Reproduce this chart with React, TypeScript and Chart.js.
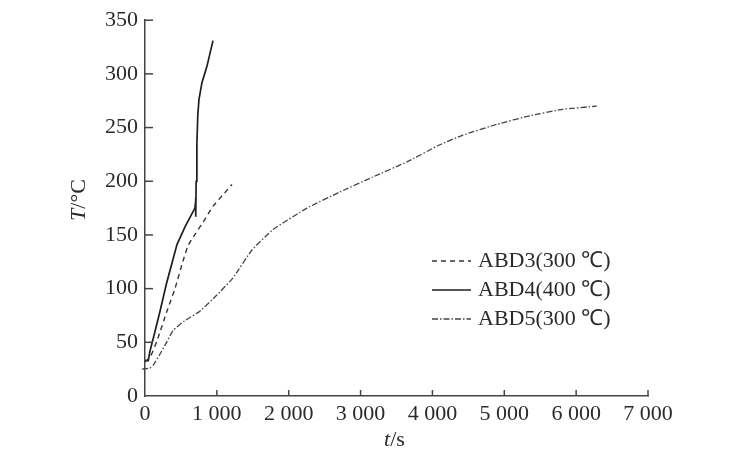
import React, { useEffect, useRef } from "react";
import { Chart, registerables } from "chart.js";

Chart.register(...registerables);

const abd3T = [0, 70, 170, 300, 417, 530, 600, 700, 810, 950, 1080, 1210];
const abd3Y = [32, 36, 52, 78, 100, 126, 140, 151, 162, 177, 187, 197];

const abd4T = [0, 45, 70, 120, 209, 300, 445, 560, 695, 709, 706, 712, 722, 735, 751, 793, 862, 946];
const abd4Y = [33, 33, 42, 55, 79, 105, 141, 158, 175, 184, 167, 200, 235, 262, 276, 292, 307, 331];

const abd5T = [-40, 70, 117, 200, 300, 390, 550, 765, 1000, 1225, 1488, 1780, 2253, 2712, 3171, 3644, 4103, 4423, 4896, 5354, 5814, 6287];
const abd5Y = [25, 26, 29, 38, 50, 61, 70, 79, 94, 110, 136, 155, 175, 190, 204, 218, 234, 243, 253, 261, 267, 270];

const seriesNames = ["ABD3(300 ℃)", "ABD4(400 ℃)", "ABD5(300 ℃)"];
const xTicks = [0, 1000, 2000, 3000, 4000, 5000, 6000, 7000];
const xTickLabels = ["0", "1 000", "2 000", "3 000", "4 000", "5 000", "6 000", "7 000"];
const yTicks = [0, 50, 100, 150, 200, 250, 300, 350];

const FONT = '"Liberation Serif", "Times New Roman", serif';
const INK = "#2a2a2a";

const toPts = (xs: number[], ys: number[]) => xs.map((x, i) => ({ x, y: ys[i] }));

export default function App() {
  const ref = useRef<HTMLCanvasElement | null>(null);
  useEffect(() => {
    document.body.style.margin = "0";
    const canvas = ref.current!;
    const innerTicks = {
      id: "innerTicks",
      afterDraw(chart: any) {
        const { ctx, chartArea } = chart;
        const xs = chart.scales.x;
        const ys = chart.scales.y;
        ctx.save();
        ctx.strokeStyle = "#444";
        ctx.lineWidth = 1.5;
        xTicks.forEach((v) => {
          if (v === 0) return;
          const px = xs.getPixelForValue(v);
          ctx.beginPath();
          ctx.moveTo(px, chartArea.bottom);
          ctx.lineTo(px, chartArea.bottom - 6);
          ctx.stroke();
        });
        yTicks.forEach((v) => {
          if (v === 0) return;
          const py = ys.getPixelForValue(v);
          ctx.beginPath();
          ctx.moveTo(chartArea.left, py);
          ctx.lineTo(chartArea.left + 8, py);
          ctx.stroke();
        });
        // axis titles
        ctx.fillStyle = INK;
        ctx.textBaseline = "middle";
        const drawMixed = (x: number, y: number, a: string, b: string) => {
          ctx.font = `italic 22px ${FONT}`;
          const wa = ctx.measureText(a).width;
          ctx.font = `22px ${FONT}`;
          const wb = ctx.measureText(b).width;
          const start = x - (wa + wb) / 2;
          ctx.textAlign = "left";
          ctx.font = `italic 22px ${FONT}`;
          ctx.fillText(a, start, y);
          ctx.font = `22px ${FONT}`;
          ctx.fillText(b, start + wa, y);
        };
        drawMixed((xs.left + xs.right) / 2 - 2, 440, "t", "/s");
        ctx.save();
        ctx.translate(79, 200);
        ctx.rotate(-Math.PI / 2);
        drawMixed(0, 0, "T", "/°C");
        ctx.restore();
        // legend
        const rows = [261, 290, 319];
        chart.data.datasets.forEach((ds: any, i: number) => {
          const y = rows[i];
          ctx.save();
          ctx.strokeStyle = ds.borderColor;
          ctx.lineWidth = ds.borderWidth;
          ctx.setLineDash(ds.borderDash || []);
          ctx.beginPath();
          ctx.moveTo(chartArea.left + 287, y);
          ctx.lineTo(chartArea.left + 326, y);
          ctx.stroke();
          ctx.restore();
          ctx.textAlign = "left";
          ctx.fillStyle = INK;
          ctx.font = `22px ${FONT}`;
          ctx.fillText(ds.label, chartArea.left + 333, y);
        });
        ctx.restore();
      },
    };
    const chart = new Chart(canvas, {
      type: "line",
      data: {
        datasets: [
          {
            label: seriesNames[0],
            data: toPts(abd3T, abd3Y),
            borderColor: "#333",
            borderWidth: 1.4,
            borderDash: [5, 4],
            pointRadius: 0,
            tension: 0.2,
            fill: false,
          },
          {
            label: seriesNames[1],
            data: toPts(abd4T, abd4Y),
            borderColor: "#1e1e1e",
            borderWidth: 1.7,
            pointRadius: 0,
            tension: 0,
            fill: false,
          },
          {
            label: seriesNames[2],
            data: toPts(abd5T, abd5Y),
            borderColor: "#444",
            borderWidth: 1.3,
            borderDash: [6, 2, 1.5, 2],
            pointRadius: 0,
            tension: 0.1,
            fill: false,
            clip: false,
          } as any,
        ],
      },
      options: {
        animation: false,
        responsive: false,
        maintainAspectRatio: false,
        layout: { padding: { left: 0, right: 92, top: 17, bottom: 0 } },
        plugins: { legend: { display: false }, tooltip: { enabled: false } },
        scales: {
          x: {
            type: "linear",
            min: 0,
            max: 7000,
            afterFit: (s: any) => {
              s.height = 60;
            },
            afterBuildTicks: (s: any) => {
              s.ticks = xTicks.map((v) => ({ value: v }));
            },
            ticks: {
              autoSkip: false,
              maxRotation: 0,
              padding: 5,
              color: INK,
              font: { family: FONT, size: 22 },
              callback: (v: any) => xTickLabels[xTicks.indexOf(Number(v))] ?? "",
            },
            grid: { drawOnChartArea: false, drawTicks: false },
            border: { display: true, color: "#444", width: 1.5 },
          },
          y: {
            type: "linear",
            min: 0,
            max: 350,
            afterFit: (s: any) => {
              s.width = 145;
            },
            afterBuildTicks: (s: any) => {
              s.ticks = yTicks.map((v) => ({ value: v }));
            },
            ticks: {
              padding: 7,
              color: INK,
              font: { family: FONT, size: 22 },
            },
            grid: { drawOnChartArea: false, drawTicks: false },
            border: { display: true, color: "#444", width: 1.5 },
          },
        },
      },
      plugins: [innerTicks],
    });
    return () => chart.destroy();
  }, []);
  return (
    <div style={{ width: 740, height: 456, background: "#fff" }}>
      <canvas ref={ref} width={740} height={456} style={{ display: "block" }} />
    </div>
  );
}
